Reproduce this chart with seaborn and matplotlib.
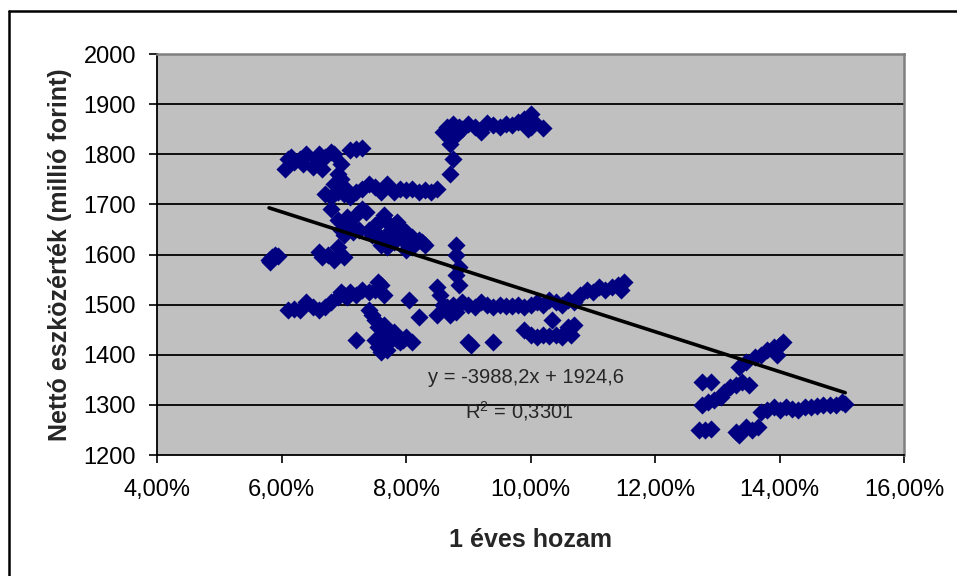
import matplotlib
matplotlib.use("Agg")
import matplotlib.pyplot as plt
import matplotlib.ticker as mticker
from matplotlib.lines import Line2D
import seaborn as sns
import numpy as np
import pandas as pd

# ---- data (1 éves hozam in %, nettó eszközérték in millió forint) ----
x_left = [5.8, 5.85, 5.9, 5.95, 5.82]
y_left = [1590, 1595, 1600, 1598, 1585]

x_top_left = [6.05, 6.1, 6.15, 6.2, 6.3, 6.35, 6.4, 6.5, 6.55, 6.6, 6.65, 6.7, 6.8, 6.85, 7.1, 7.2, 7.3,
              6.95, 6.9, 6.95, 7.0, 6.85]
y_top_left = [1770, 1790, 1795, 1785, 1790, 1780, 1800, 1775, 1790, 1800, 1770, 1795, 1805, 1800, 1808, 1810, 1812,
              1780, 1760, 1750, 1735, 1740]

x_band1720 = [6.7, 6.8, 6.9, 7.0, 7.1, 7.2, 7.3, 7.4, 7.5, 7.6, 7.7, 7.8, 7.9, 8.0, 8.1, 8.2, 8.3, 8.4, 8.5,
              8.7, 8.75, 8.7, 8.75]
y_band1720 = [1720, 1715, 1725, 1720, 1715, 1725, 1730, 1740, 1735, 1725, 1740, 1725, 1730, 1728, 1730, 1725, 1728, 1725, 1730,
              1760, 1790, 1820, 1840]

x_top = [8.6, 8.65, 8.7, 8.75, 8.8, 8.85, 8.9, 9.0, 9.1, 9.2, 9.3, 9.4, 9.5, 9.6, 9.7, 9.8, 9.9, 10.0, 10.05, 9.95, 10.2, 10.0,
         8.7, 8.8, 8.65]
y_top = [1845, 1855, 1850, 1860, 1845, 1855, 1850, 1860, 1855, 1845, 1862, 1858, 1855, 1860, 1858, 1865, 1870, 1880, 1865, 1850, 1852, 1855,
         1830, 1838, 1840]

x_dense = [6.8, 6.9, 6.95, 7.0, 7.1, 7.2, 7.3, 7.35, 7.4, 7.5, 7.6, 7.65, 7.7, 7.75, 7.8, 7.85, 7.9, 7.95, 8.0, 8.05,
           8.1, 8.15, 8.2, 8.3, 7.6, 7.7, 7.8, 7.9, 8.0, 7.5, 7.55, 7.7, 7.05, 7.15, 7.25, 7.45, 7.85, 8.1, 8.25, 7.95]
y_dense = [1690, 1670, 1650, 1640, 1660, 1680, 1690, 1685, 1650, 1645, 1670, 1680, 1665, 1650, 1660, 1640, 1655, 1630, 1645, 1620,
           1635, 1625, 1630, 1620, 1620, 1615, 1625, 1640, 1610, 1660, 1640, 1635, 1675, 1645, 1650, 1640, 1665, 1615, 1625, 1650]

x_1600 = [6.6, 6.65, 6.85, 6.9, 7.0, 6.75, 8.8, 8.8, 8.85, 8.8, 8.85]
y_1600 = [1605, 1595, 1590, 1615, 1595, 1600, 1620, 1600, 1575, 1560, 1540]

x_band1500a = [6.1, 6.2, 6.3, 6.4, 6.5, 6.6, 6.7, 6.8, 6.9, 7.0, 7.1, 7.2, 7.3, 7.4, 7.5, 7.55, 7.6, 7.65, 6.95, 7.05]
y_band1500a = [1490, 1492, 1490, 1505, 1495, 1490, 1495, 1505, 1515, 1520, 1525, 1520, 1530, 1525, 1530, 1545, 1540, 1520, 1525, 1515]

x_low = [7.2, 7.4, 7.45, 7.5, 7.55, 7.6, 7.65, 7.6, 7.7, 7.75, 7.8, 7.85, 7.9, 7.95, 8.0, 8.1, 7.5, 7.55, 8.05, 7.65, 7.7]
y_low = [1430, 1490, 1480, 1470, 1455, 1440, 1420, 1405, 1425, 1430, 1445, 1430, 1425, 1430, 1435, 1425, 1430, 1415, 1510, 1460, 1410]

x_band1500b = [8.2, 8.5, 8.5, 8.55, 8.6, 8.65, 8.7, 8.75, 8.8, 8.9, 9.0, 9.1, 9.2, 9.3, 9.4, 9.5, 9.6, 9.7, 9.8, 9.9,
               10.0, 10.1, 10.2, 10.3, 10.4, 10.5, 10.6, 9.0, 9.05, 9.4]
y_band1500b = [1475, 1480, 1535, 1520, 1500, 1495, 1480, 1500, 1485, 1505, 1500, 1495, 1505, 1500, 1495, 1500, 1498, 1497, 1500, 1495,
               1500, 1505, 1500, 1510, 1505, 1500, 1510, 1425, 1420, 1425]

x_mid = [9.9, 10.0, 10.1, 10.2, 10.3, 10.4, 10.5, 10.55, 10.6, 10.7, 10.65, 10.35,
         10.7, 10.8, 10.9, 11.0, 11.1, 11.2, 11.3, 11.4, 11.5, 11.45]
y_mid = [1450, 1440, 1435, 1440, 1438, 1440, 1435, 1445, 1455, 1460, 1440, 1470,
         1505, 1520, 1530, 1525, 1535, 1530, 1535, 1540, 1545, 1530]

x_right = [12.7, 12.8, 12.9, 12.75, 12.9, 12.75, 12.85, 12.95, 13.05, 13.1, 13.2, 13.3, 13.4, 13.5, 13.35, 13.45, 13.6,
           13.7, 13.8, 13.9, 14.0, 14.05, 13.95, 13.3, 13.35, 13.45, 13.55, 13.65, 13.7, 13.8, 13.9, 14.0, 14.1, 14.2,
           14.3, 14.4, 14.5, 14.6, 14.7, 14.8, 14.9, 15.0, 15.05]
y_right = [1250, 1250, 1252, 1345, 1345, 1300, 1305, 1310, 1315, 1325, 1335, 1340, 1345, 1340, 1375, 1385, 1395,
           1400, 1410, 1415, 1420, 1425, 1400, 1245, 1240, 1255, 1250, 1255, 1285, 1290, 1295, 1290, 1295, 1292,
           1290, 1295, 1295, 1298, 1300, 1300, 1300, 1305, 1302]

slope, intercept = -3988.2, 1924.6
eq_label = "y = -3988,2x + 1924,6"
r2_label = "R$^{2}$ = 0,3301"
x_title = "1 éves hozam"
y_title = "Nettó eszközérték (millió forint)"

xs = (x_left + x_top_left + x_band1720 + x_top + x_dense + x_1600 + x_band1500a + x_low
      + x_band1500b + x_mid + x_right)
ys = (y_left + y_top_left + y_band1720 + y_top + y_dense + y_1600 + y_band1500a + y_low
      + y_band1500b + y_mid + y_right)
df = pd.DataFrame({"hozam": np.array(xs) / 100.0, "nav": ys})

# ---- plotting ----
sns.set_style("white")
plt.rcParams["font.family"] = ["Liberation Sans", "DejaVu Sans"]
plt.rcParams["mathtext.fontset"] = "custom"
plt.rcParams["mathtext.rm"] = "Liberation Sans"

fig = plt.figure(figsize=(9.57, 5.76), dpi=100)
ax = fig.add_axes([0.164, 0.210, 0.781, 0.696])
ax.set_facecolor("#C0C0C0")

for yv in range(1300, 2000, 100):
    ax.axhline(yv, color="black", lw=1.3, zorder=1)

sns.scatterplot(data=df, x="hozam", y="nav", marker="D", s=85, color="#000080",
                edgecolor="#000080", linewidth=0, ax=ax, zorder=3)

xl = np.array([df["hozam"].min(), df["hozam"].max()])
sns.lineplot(x=xl, y=slope * xl + intercept, color="black", lw=2.6, ax=ax, zorder=4)

ax.set_xlim(0.04, 0.16)
ax.set_ylim(1200, 2000)
ax.set_xticks(np.arange(0.04, 0.1601, 0.02))
ax.set_yticks(np.arange(1200, 2001, 100))
ax.xaxis.set_major_formatter(mticker.FuncFormatter(lambda v, p: f"{v*100:.2f}%".replace(".", ",")))
ax.tick_params(axis="both", direction="out", length=6, width=1.2, color="black",
               labelsize=17, colors="black", bottom=True, left=True)
ax.tick_params(axis="x", pad=11)
ax.tick_params(axis="y", pad=9)
for s in ["left", "bottom"]:
    ax.spines[s].set_color("black")
    ax.spines[s].set_linewidth(1.3)
for s in ["top", "right"]:
    ax.spines[s].set_color("#808080")
    ax.spines[s].set_linewidth(1.8)

ax.set_xlabel(x_title, fontsize=18, fontweight="bold", labelpad=20)
ax.set_ylabel(y_title, fontsize=18, fontweight="bold", labelpad=8)

ax.text(0.0993, 1354, eq_label, fontsize=14.5, ha="center", va="center", zorder=5)
ax.text(0.0982, 1288, r2_label, fontsize=14.5, ha="center", va="center", zorder=5)

# outer chart border (left and top edges visible)
fig.add_artist(Line2D([0.009, 1.0], [0.981, 0.981], transform=fig.transFigure, color="black", lw=1.8))
fig.add_artist(Line2D([0.009, 0.009], [0.0, 0.981], transform=fig.transFigure, color="black", lw=1.8))

fig.savefig("out.png", dpi=100, facecolor="white")
